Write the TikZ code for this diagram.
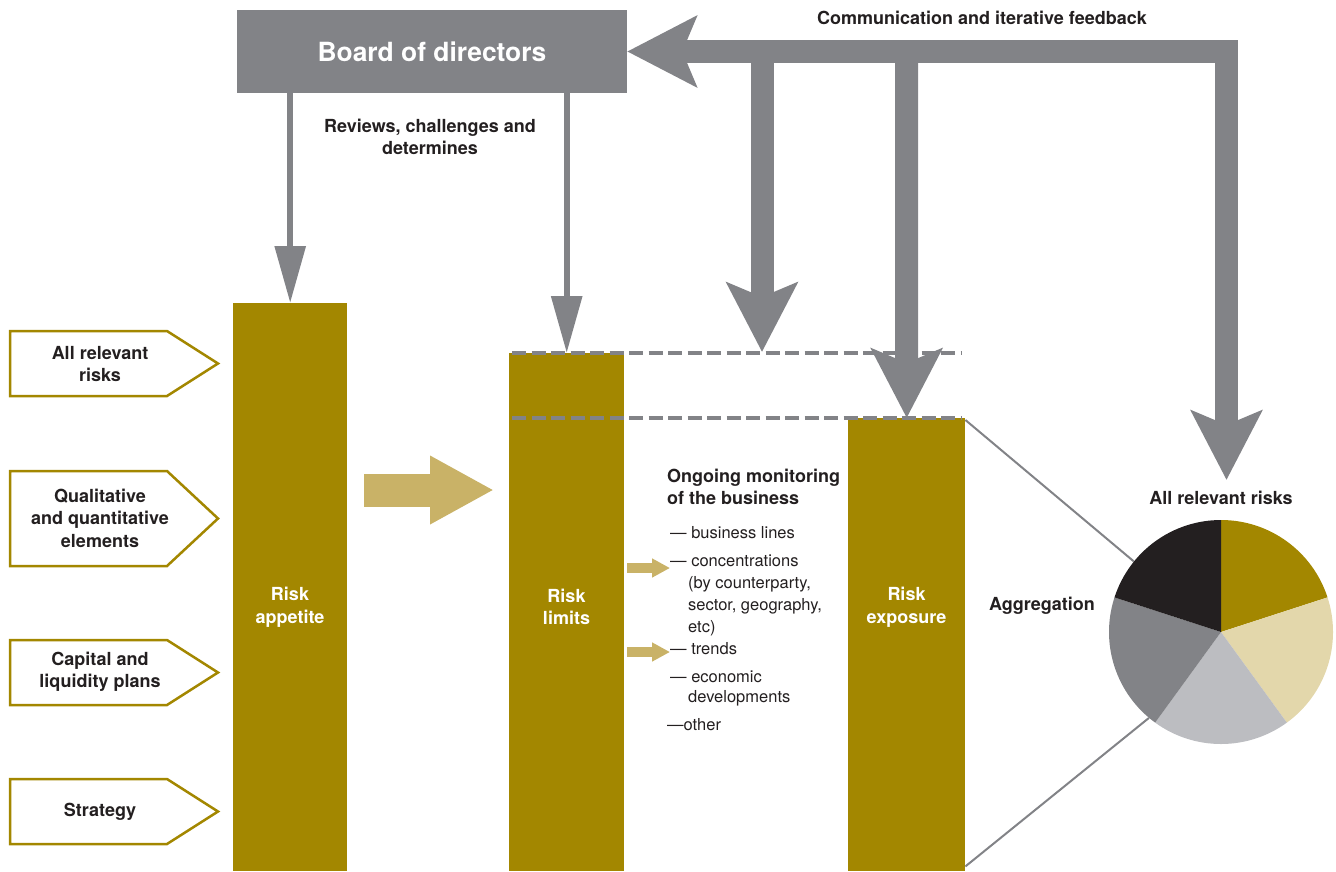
\documentclass[tikz,border=0pt]{standalone}
\usepackage{fontspec}
\setmainfont{TeX Gyre Heros}
\usetikzlibrary{arrows.meta}
\definecolor{gold}{RGB}{163,135,0}
\definecolor{lightgold}{RGB}{201,178,103}
\definecolor{greyc}{RGB}{130,131,135}
\definecolor{beige}{RGB}{227,215,171}
\definecolor{lgrey}{RGB}{188,189,193}
\definecolor{blackc}{RGB}{35,31,32}
\definecolor{textc}{RGB}{35,31,32}
\begin{document}
\begin{tikzpicture}[x=1pt,y=-1pt,
  lbl/.style={font=\bfseries\fontsize{18}{22.5}\selectfont, text=textc, align=center, inner sep=0pt},
  wlbl/.style={lbl, text=white},
  item/.style={font=\fontsize{16.5}{22}\selectfont, text=textc, anchor=base west, inner sep=0pt},
  col/.style={fill=gold, inner sep=0pt, anchor=north west},
  pent/.style={draw=gold, line width=2.5pt, fill=white, line join=miter},
  thinarrow/.style={draw=greyc, line width=6pt, -{Triangle[length=57pt,width=30pt]}},
  fb/.style={draw=greyc, line width=23pt, >={Stealth[length=69pt,width=70pt,inset=14pt]}},
  dashln/.style={draw=greyc, line width=3.5pt, dash pattern=on 14pt off 5.5pt},
  pieln/.style={draw=greyc, line width=2pt},
  goldarrow/.style={draw=lightgold},
]
\useasboundingbox (0,0) rectangle (1336,871);

% left inputs
\draw[pent] (10,331) -- (167,331) -- (218,363.5) -- (167,396) -- (10,396) -- cycle;
\node[lbl] (in1) at (100,364) {All relevant\\risks};
\draw[pent] (10,471) -- (167,471) -- (218,518.5) -- (167,566) -- (10,566) -- cycle;
\node[lbl] (in2) at (100,518) {Qualitative\\and quantitative\\elements};
\draw[pent] (10,640) -- (167,640) -- (218,672.5) -- (167,705) -- (10,705) -- cycle;
\node[lbl] (in3) at (100,672) {Capital and\\liquidity plans};
\draw[pent] (10,779) -- (167,779) -- (218,811.5) -- (167,844) -- (10,844) -- cycle;
\node[lbl] (in4) at (100,812) {Strategy};

% columns
\node[col, minimum width=114pt, minimum height=568pt] (appetite) at (233,303) {};
\node[col, minimum width=115pt, minimum height=518pt] (limits) at (509,353) {};
\node[col, minimum width=117pt, minimum height=453pt] (exposure) at (848,418) {};
\node[wlbl] (appl) at (290,607) {Risk\\appetite};
\node[wlbl] (liml) at (566.5,607) {Risk\\limits};
\node[wlbl] (expl) at (906.5,607) {Risk\\exposure};

% board
\node[fill=greyc, minimum width=390pt, minimum height=83pt, inner sep=0pt, text=white,
      font=\bfseries\fontsize{26.4}{30}\selectfont] (board) at (432,51.5) {Board of directors};
\node[lbl] (rev) at (430,137) {Reviews, challenges and\\determines};
\node[lbl] (comm) at (982,18) {Communication and iterative feedback};

% dashed level lines
\coordinate (d1a) at (512,353);
\coordinate (d1b) at (962,353);
\coordinate (d2a) at (512,418);
\coordinate (d2b) at (962,418);
\draw[dashln] (d1a) -- (d1b);
\draw[dashln] (d2a) -- (d2b);

% board arrows
\draw[thinarrow] (board.south -| appetite.north) -- (appetite.north);
\draw[thinarrow] (board.south -| limits.north) -- (limits.north);

% feedback arrows
\coordinate (fbc) at (1226.5,51.5);
\coordinate (fb3) at (1226.5,480);
\coordinate (fb1s) at (762,51.5);
\coordinate (fb1e) at (762,352);
\coordinate (fb2s) at (906.5,51.5);
\draw[fb,->] (fb1s) -- (fb1e);
\draw[fb,->] (fb2s) -- (exposure.north);
\draw[fb,<->] (board.east) -- (fbc) -- (fb3);

% big gold arrow
\coordinate (ba1) at (364,490);
\coordinate (ba2) at (494,490);
\draw[goldarrow, line width=33pt, -{Triangle[length=64pt,width=64pt]}] (ba1) -- (ba2);

% monitoring text
\node[lbl, anchor=base west, align=left] (mon1) at (667,482) {Ongoing monitoring};
\node[lbl, anchor=base west, align=left] (mon2) at (667,504) {of the business};
\node[item] (i1) at (670,538) {— business lines};
\node[item] (i2) at (670,566) {— concentrations};
\node[item] (i2b) at (688,588) {(by counterparty,};
\node[item] (i2c) at (688,610) {sector, geography,};
\node[item] (i2d) at (688,632) {etc)};
\node[item] (i3) at (670,654) {— trends};
\node[item] (i4) at (670,682) {— economic};
\node[item] (i4b) at (688,702) {developments};
\node[item] (i5) at (667,730) {—other};

% small gold arrows
\coordinate (sa1) at (627,568);
\coordinate (sa2) at (627,652);
\draw[goldarrow, line width=10pt, -{Triangle[length=18pt,width=18pt]}] (sa1) -- (i2.west |- sa1);
\draw[goldarrow, line width=10pt, -{Triangle[length=18pt,width=18pt]}] (sa2) -- (i3.west |- sa2);

% pie
\node[circle, minimum size=224pt, inner sep=0pt] (pie) at (1221,632) {};
\draw[pieln] ([yshift=-2pt]exposure.north east) -- (pie.141);
\draw[pieln] ([yshift=5pt]exposure.south east) -- (pie.230);
\begin{scope}[shift={(pie.center)}, y=1pt]
  \fill[gold]   (0,0) -- (90:112pt)  arc[start angle=90,  end angle=18,   radius=112pt] -- cycle;
  \fill[beige]  (0,0) -- (18:112pt)  arc[start angle=18,  end angle=-54,  radius=112pt] -- cycle;
  \fill[lgrey]  (0,0) -- (-54:112pt) arc[start angle=-54, end angle=-126, radius=112pt] -- cycle;
  \fill[greyc]  (0,0) -- (-126:112pt) arc[start angle=-126, end angle=-198, radius=112pt] -- cycle;
  \fill[blackc] (0,0) -- (162:112pt) arc[start angle=162, end angle=90,   radius=112pt] -- cycle;
\end{scope}
\node[lbl] (allr) at (1221,498) {All relevant risks};
\node[lbl] (aggr) at (1042,606) {Aggregation};
\end{tikzpicture}
\end{document}
